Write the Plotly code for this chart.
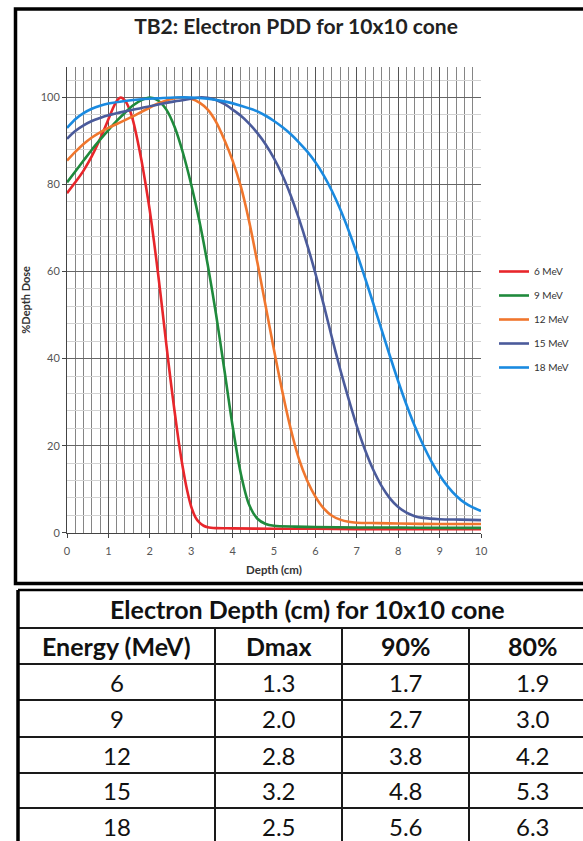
import plotly.graph_objects as go

# ---------------- data ----------------
energies = ["6 MeV", "9 MeV", "12 MeV", "15 MeV", "18 MeV"]
colors = ["#E8262B", "#1F8A3C", "#F0762D", "#4B5B9B", "#1A8AE0"]

d6 = [0, 0.2, 0.4, 0.6, 0.8, 1.0, 1.1, 1.2, 1.3, 1.4, 1.5, 1.6, 1.7, 1.8, 1.9, 2.0, 2.1, 2.2, 2.3, 2.4,
      2.5, 2.6, 2.7, 2.8, 2.9, 3.0, 3.1, 3.2, 3.3, 3.4, 3.6, 4.0, 5.0, 6.0, 7.0, 8.0, 9.0, 10.0]
v6 = [78, 80.5, 83.2, 86.5, 90.5, 95, 97.3, 99.2, 100, 99.3, 97.5, 94.5, 90.3, 85.5, 80, 74, 67, 59.5, 51.5, 43.2,
      35.2, 27.8, 20.8, 14.8, 9.8, 6.0, 3.6, 2.3, 1.6, 1.25, 1.05, 1.0, 0.9, 0.9, 0.8, 0.8, 0.8, 0.8]

d9 = [0, 0.2, 0.4, 0.6, 0.8, 1.0, 1.2, 1.4, 1.6, 1.8, 2.0, 2.2, 2.4, 2.6, 2.8, 3.0, 3.2, 3.4, 3.6,
      3.8, 4.0, 4.2, 4.4, 4.6, 4.8, 5.0, 5.5, 6.0, 7.0, 8.0, 9.0, 10.0]
v9 = [80.5, 83, 85.5, 88, 90.3, 92.5, 94.6, 96.5, 98.2, 99.4, 100, 99.3, 97.2, 93.2, 87.3, 80, 71.5, 61.5, 50.2,
      37.5, 24.5, 13.5, 6.4, 3.2, 2.0, 1.6, 1.4, 1.3, 1.2, 1.2, 1.1, 1.1]

d12 = [0, 0.2, 0.4, 0.6, 0.8, 1.0, 1.2, 1.4, 1.6, 1.8, 2.0, 2.2, 2.4, 2.6, 2.8, 3.0, 3.2, 3.4, 3.6, 3.8,
       4.0, 4.2, 4.4, 4.6, 4.8, 5.0, 5.2, 5.4, 5.6, 5.8, 6.0, 6.2, 6.4, 6.6, 6.8, 7.0, 7.5, 8.0, 9.0, 10.0]
v12 = [85.5, 87.5, 89.3, 90.8, 92, 93, 93.9, 94.8, 95.7, 96.7, 97.7, 98.6, 99.3, 99.8, 100, 99.7, 98.8, 97.2, 94.4, 90.3,
       85.5, 79.5, 71.5, 62, 52, 42, 32.5, 24, 17, 12, 8.3, 5.6, 3.9, 3.0, 2.5, 2.3, 2.2, 2.1, 2.0, 2.0]

d15 = [0, 0.2, 0.4, 0.6, 0.8, 1.0, 1.4, 1.8, 2.2, 2.6, 3.0, 3.2, 3.4, 3.6, 3.8, 4.0, 4.2, 4.4, 4.6, 4.8,
       5.0, 5.2, 5.4, 5.6, 5.8, 6.0, 6.2, 6.4, 6.6, 6.8, 7.0, 7.2, 7.4, 7.6, 7.8, 8.0, 8.2, 8.4, 8.6, 9.0, 9.5, 10.0]
v15 = [90.5, 92.3, 93.6, 94.6, 95.3, 95.9, 96.8, 97.6, 98.4, 99.1, 99.7, 100, 99.9, 99.4, 98.5, 97.2, 95.8, 94, 91.8, 89.2,
       86, 82.2, 77.6, 72.2, 66.2, 59.6, 52.4, 44.8, 37.5, 30.8, 24.5, 19, 14.4, 10.7, 7.9, 5.9, 4.6, 3.8, 3.4, 3.1, 3.0, 2.9]

d18 = [0, 0.2, 0.4, 0.6, 0.8, 1.0, 1.4, 1.8, 2.2, 2.6, 3.0, 3.4, 3.8, 4.2, 4.6, 4.8, 5.0, 5.2, 5.4, 5.6,
       5.8, 6.0, 6.2, 6.4, 6.6, 6.8, 7.0, 7.2, 7.4, 7.6, 7.8, 8.0, 8.2, 8.4, 8.6, 8.8, 9.0, 9.2, 9.4, 9.6, 9.8, 10.0]
v18 = [93, 95, 96.4, 97.4, 98.1, 98.6, 99.2, 99.6, 99.8, 100, 100, 99.7, 99.1, 98.1, 96.8, 95.8, 94.6, 93.2, 91.6, 89.7,
       87.6, 85.1, 82.1, 78.5, 74.3, 69.5, 64.2, 58.5, 52.6, 46.6, 40.6, 34.8, 29.4, 24.5, 20.2, 16.4, 13.2, 10.6, 8.5, 6.9, 5.8, 5.0]

depths = [d6, d9, d12, d15, d18]
doses = [v6, v9, v12, v15, v18]

chart_title = "TB2: Electron PDD for 10x10 cone"
x_title = "Depth (cm)"
y_title = "%Depth Dose"
x_ticks = list(range(0, 11))
y_ticks = [0, 20, 40, 60, 80, 100]

table_title = "Electron Depth (cm) for 10x10 cone"
table_header = ["Energy (MeV)", "Dmax", "90%", "80%"]
tab_energy = [6, 9, 12, 15, 18]
tab_dmax = [1.3, 2.0, 2.8, 3.2, 2.5]
tab_d90 = [1.7, 2.7, 3.8, 4.8, 5.6]
tab_d80 = [1.9, 3.0, 4.2, 5.3, 6.3]

# ---------------- layout geometry (pixels) ----------------
W, H = 583, 841
FONT = "Lato"
col_edges = [18, 215, 342, 469, 596]          # table column borders
row_edges = [590, 628, 664, 700, 737, 773, 808, 845]   # table row borders


def px(x):
    return x / W


def py(y):
    return 1 - y / H


fig = go.Figure()
for name, col, xs, ys in zip(energies, colors, depths, doses):
    fig.add_trace(go.Scatter(
        x=xs, y=ys, mode="lines", name=name, legendgroup=name,
        line=dict(color=col, width=2.6, shape="spline", smoothing=0.8)))

# ---------------- table (lines + text) ----------------
shapes = [
    # chart frame
    dict(type="rect", xref="paper", yref="paper", x0=px(15.5), x1=1.05,
         y0=py(583.5), y1=py(9), line=dict(color="black", width=3.5), layer="above"),
]
tline = dict(color="#1a1a1a", width=2)
for i, y in enumerate(row_edges):
    shapes.append(dict(type="line", xref="paper", yref="paper", x0=px(col_edges[0]), x1=1.05,
                       y0=py(y), y1=py(y), line=tline if i else dict(color="black", width=2.5)))
for j, x in enumerate(col_edges[:-1]):
    y_top = row_edges[0] if j == 0 else row_edges[1]
    shapes.append(dict(type="line", xref="paper", yref="paper", x0=px(x), x1=px(x),
                       y0=py(y_top), y1=-0.02,
                       line=tline if j else dict(color="black", width=3.5)))

annotations = []
tfont_b = dict(family=FONT, size=25, color="#111", weight="bold")
tfont = dict(family=FONT, size=24, color="#111")
annotations.append(dict(text=table_title, xref="paper", yref="paper",
                        x=px((col_edges[0] + col_edges[-1]) / 2), y=py((row_edges[0] + row_edges[1]) / 2),
                        xanchor="center", yanchor="middle", showarrow=False, font=tfont_b))
for j, h in enumerate(table_header):
    annotations.append(dict(text=h, xref="paper", yref="paper",
                            x=px((col_edges[j] + col_edges[j + 1]) / 2),
                            y=py((row_edges[1] + row_edges[2]) / 2),
                            xanchor="center", yanchor="middle", showarrow=False, font=tfont_b))
columns = [[str(e) for e in tab_energy],
           [f"{v:.1f}" for v in tab_dmax],
           [f"{v:.1f}" for v in tab_d90],
           [f"{v:.1f}" for v in tab_d80]]
for j, colvals in enumerate(columns):
    for i, txt in enumerate(colvals):
        annotations.append(dict(text=txt, xref="paper", yref="paper",
                                x=px((col_edges[j] + col_edges[j + 1]) / 2),
                                y=py((row_edges[i + 2] + row_edges[i + 3]) / 2),
                                xanchor="center", yanchor="middle", showarrow=False, font=tfont))

fig.update_layout(
    width=W, height=H,
    template="plotly_white",
    margin=dict(l=0, r=0, t=0, b=0, autoexpand=False),
    paper_bgcolor="white", plot_bgcolor="white",
    font=dict(family=FONT, color="#333"),
    title=dict(text=chart_title, x=px(296), xanchor="center", xref="paper",
               y=py(27), yanchor="middle", yref="container",
               font=dict(family=FONT, size=21, color="#222", weight="bold")),
    xaxis=dict(domain=[px(67), px(481)], range=[0, 10], tickvals=x_ticks, automargin=False,
               showgrid=True, gridcolor="#555", gridwidth=1,
               minor=dict(dtick=0.2, showgrid=True, gridcolor="#858585", gridwidth=1),
               showline=True, linecolor="#444", linewidth=1,
               ticks="outside", ticklen=4, tickcolor="#444", ticklabelstandoff=4,
               tickfont=dict(family=FONT, size=11, color="#555"),
               title=dict(text=x_title, standoff=10,
                          font=dict(family=FONT, size=11.5, color="#333", weight="bold")),
               zeroline=False, fixedrange=True),
    yaxis=dict(domain=[py(532.7), py(67)], range=[0, 107], tickvals=y_ticks, automargin=False,
               showgrid=True, gridcolor="#666", gridwidth=1,
               minor=dict(dtick=4, showgrid=True, gridcolor="#d2d2d2", gridwidth=1),
               showline=True, linecolor="#444", linewidth=1,
               ticks="outside", ticklen=4, tickcolor="#444",
               tickfont=dict(family=FONT, size=11, color="#555"),
               title=dict(text=y_title, standoff=7,
                          font=dict(family=FONT, size=11, color="#333", weight="bold")),
               zeroline=False, fixedrange=True),
    showlegend=True,
    legend=dict(x=px(494), y=py(257), xref="container", yref="container",
                xanchor="left", yanchor="top",
                font=dict(family=FONT, size=10, color="#333"),
                tracegroupgap=5, itemwidth=30, bgcolor="rgba(0,0,0,0)"),
    shapes=shapes,
    annotations=annotations,
)

fig.write_html("out.html", config={"displayModeBar": False, "staticPlot": True},
               post_script="document.body.style.margin='0';document.body.style.overflow='hidden';")
